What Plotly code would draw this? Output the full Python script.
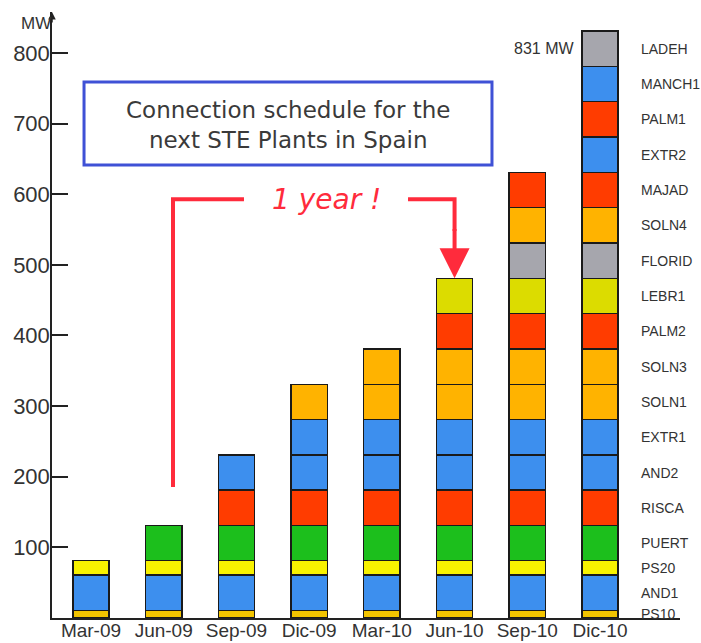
import plotly.graph_objects as go

# Connection periods (x axis)
periods = ["Mar-09", "Jun-09", "Sep-09", "Dic-09", "Mar-10", "Jun-10", "Sep-10", "Dic-10"]

# Solar thermal plants, in stacking order (bottom to top)
plants = ["PS10", "AND1", "PS20", "PUERT", "RISCA", "AND2", "EXTR1", "SOLN1", "SOLN3",
          "PALM2", "LEBR1", "FLORID", "SOLN4", "MAJAD", "EXTR2", "PALM1", "MANCH1", "LADEH"]
capacity_mw = [11, 50, 20, 50, 50, 50, 50, 50, 50, 50, 50, 50, 50, 50, 50, 50, 50, 50]
# Period (as label) in which each plant gets connected
connected_in = ["Mar-09", "Mar-09", "Mar-09", "Jun-09", "Sep-09", "Sep-09", "Dic-09", "Dic-09",
                "Mar-10", "Jun-10", "Jun-10", "Sep-10", "Sep-10", "Sep-10", "Dic-10", "Dic-10",
                "Dic-10", "Dic-10"]

# Segment colours per plant
GOLD, BLUE, YEL, GREEN = "#f2c400", "#3d8fee", "#f8f200", "#1cbf1c"
RED, ORANGE, OLIVE, GRAY = "#ff3c00", "#ffb300", "#dcdc00", "#a6a6ad"
plant_colors = [GOLD, BLUE, YEL, GREEN, RED, BLUE, BLUE, ORANGE, ORANGE,
                RED, OLIVE, GRAY, ORANGE, RED, BLUE, RED, BLUE, GRAY]

y_ticks = [100, 200, 300, 400, 500, 600, 700, 800]

BAR_W = 0.5
FONT = "Liberation Sans, Arial, sans-serif"
TXT = "#333333"
ARROW_RED = "#ff2b3c"

x_idx = list(range(len(periods)))

fig = go.Figure()
for name, cap, start, col in zip(plants, capacity_mw, connected_in, plant_colors):
    first = periods.index(start)
    xs = x_idx[first:]
    fig.add_trace(go.Bar(
        x=xs, y=[cap] * len(xs), name=name, width=BAR_W,
        marker=dict(color=col, line=dict(color="#1a1a1a", width=1.4)),
        hovertemplate=name + ": %{y} MW<extra></extra>",
    ))

# Cumulative totals per period
totals = []
for i in x_idx:
    totals.append(sum(c for c, s in zip(capacity_mw, connected_in) if periods.index(s) <= i))

last = x_idx[-1]
annotations = []

# Plant names next to the last bar, at each segment's middle
cum = 0
for name, cap in zip(plants, capacity_mw):
    mid = cum + cap / 2
    cum += cap
    annotations.append(dict(
        x=last + BAR_W / 2, y=mid, xref="x", yref="y", text=name, showarrow=False,
        xanchor="left", yanchor="middle", xshift=21,
        font=dict(family=FONT, size=14, color=TXT),
    ))

# Total capacity label next to the top segment
annotations.append(dict(
    x=last - BAR_W / 2, y=totals[-1] - capacity_mw[-1] / 2, xref="x", yref="y",
    text=f"{totals[-1]} MW", showarrow=False, xanchor="right", yanchor="middle", xshift=-6,
    font=dict(family=FONT, size=16, color=TXT),
))

# Title inside a framed box
annotations.append(dict(
    x=0.3758, y=0.814, xref="paper", yref="paper",
    text="Connection schedule for the<br>next STE Plants in Spain", showarrow=False,
    xanchor="center", yanchor="middle",
    font=dict(family="DejaVu Sans, sans-serif", size=23, color="#3a3a3a"),
))

# "1 year !" callout between Jun-09 and Jun-10
jun09, jun10 = periods.index("Jun-09"), periods.index("Jun-10")
callout_y = 593
annotations.append(dict(
    x=3.245, y=callout_y, xref="x", yref="y", text="<i>1 year !</i>", showarrow=False,
    xanchor="center", yanchor="middle",
    font=dict(family="DejaVu Sans, sans-serif", size=28, color=ARROW_RED),
))
annotations.append(dict(
    x=jun10, y=totals[jun10], xref="x", yref="y", ax=jun10, ay=callout_y - 40,
    axref="x", ayref="y", text="", showarrow=True,
    arrowhead=2, arrowsize=1.5, arrowwidth=4, arrowcolor=ARROW_RED,
))

# Y axis arrow tip and unit
annotations.append(dict(
    x=0, y=1, xref="paper", yref="paper", ax=0, ay=12, axref="pixel", ayref="pixel",
    text="", showarrow=True, arrowhead=2, arrowsize=1, arrowwidth=1.5, arrowcolor="#222222",
))
annotations.append(dict(
    x=0, y=1, xref="paper", yref="paper", text="MW", showarrow=False,
    xanchor="right", yanchor="top", xshift=1, yshift=0,
    font=dict(family=FONT, size=17, color=TXT),
))

shapes = [
    # title frame
    dict(type="rect", xref="paper", yref="paper", x0=0.051, x1=0.7006, y0=0.7475, y1=0.8845,
         line=dict(color="#3f51d6", width=3), fillcolor="rgba(0,0,0,0)"),
    # callout line from Jun-09 up and across
    dict(type="path", xref="x", yref="y",
         path=f"M {jun09 + 0.128} 185.5 L {jun09 + 0.128} {callout_y} L 2.104 {callout_y}",
         line=dict(color=ARROW_RED, width=4)),
    # callout line across and down to Jun-10
    dict(type="path", xref="x", yref="y",
         path=f"M 4.36 {callout_y} L {jun10} {callout_y} L {jun10} {callout_y - 45}",
         line=dict(color=ARROW_RED, width=4)),
]

fig.update_layout(
    width=701, height=643,
    margin=dict(l=52, r=21, t=12, b=25, autoexpand=False),
    paper_bgcolor="white", plot_bgcolor="white",
    barmode="stack", showlegend=False,
    annotations=annotations, shapes=shapes,
    xaxis=dict(
        range=[-0.536, 8.10], tickmode="array", tickvals=x_idx, ticktext=periods,
        tickangle=0, showgrid=False, zeroline=False, ticks="",
        showline=True, linecolor="#222222", linewidth=1.5,
        automargin=False, ticklabelstandoff=-6,
        tickfont=dict(family=FONT, size=19, color=TXT),
    ),
    yaxis=dict(
        range=[0, 858], tickmode="array", tickvals=y_ticks,
        showgrid=False, zeroline=False, ticks="inside", ticklen=16, tickwidth=2,
        tickcolor="#222222",
        showline=True, linecolor="#222222", linewidth=1.5,
        automargin=False, ticklabelstandoff=-4,
        tickfont=dict(family=FONT, size=22, color=TXT),
    ),
)

fig.write_html("out.html")
